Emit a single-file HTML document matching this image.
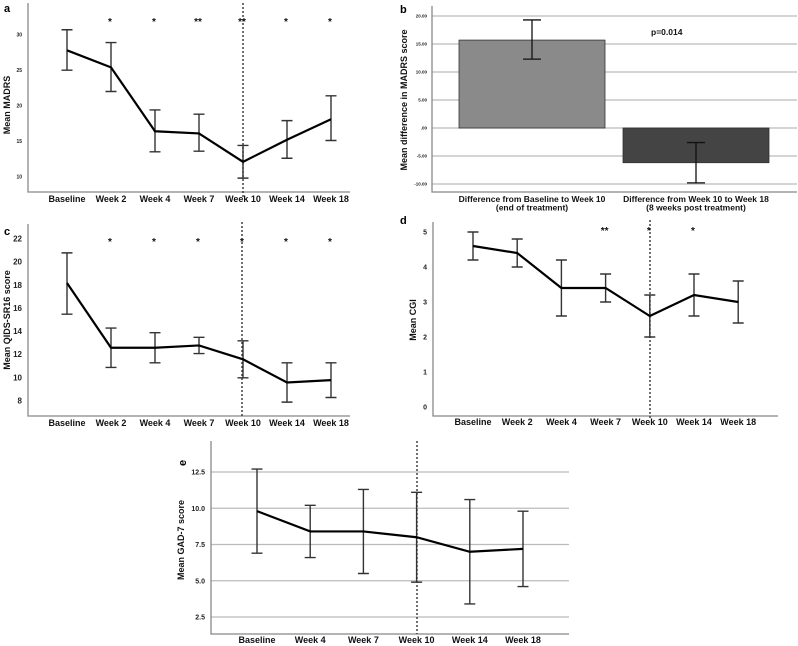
<!DOCTYPE html>
<html><head><meta charset="utf-8"><style>
body{margin:0;background:#fff;}
svg{display:block;font-family:"Liberation Sans",sans-serif;}
</style></head><body>
<svg id="fig" width="798" height="646" viewBox="0 0 798 646" xmlns="http://www.w3.org/2000/svg"></svg>
<script>
const weeks7 = ["Baseline","Week 2","Week 4","Week 7","Week 10","Week 14","Week 18"];
const weeks6 = ["Baseline","Week 4","Week 7","Week 10","Week 14","Week 18"];
const madrsMean = [27.7,25.3,16.3,16.0,12.0,15.1,18.0];
const madrsLo = [24.9,21.9,13.4,13.5,9.7,12.5,15.0];
const madrsHi = [30.6,28.8,19.3,18.7,14.3,17.8,21.3];
const madrsStars = ["","*","*","**","**","*","*"];
const madrsTicks = [10,15,20,25,30];
const diffCats = ["Difference from Baseline to Week 10|(end of treatment)","Difference from Week 10 to Week 18|(8 weeks post treatment)"];
const diffMean = [15.7,-6.2];
const diffLo = [12.3,-9.8];
const diffHi = [19.3,-2.6];
const diffTicks = [-10,-5,0,5,10,15,20];
const diffTickLabels = ["-10.00","-5.00",".00","5.00","10.00","15.00","20.00"];
const qidsMean = [18.2,12.6,12.6,12.8,11.6,9.6,9.8];
const qidsLo = [15.5,10.9,11.3,12.1,10.0,7.9,8.3];
const qidsHi = [20.8,14.3,13.9,13.5,13.2,11.3,11.3];
const qidsStars = ["","*","*","*","*","*","*"];
const qidsTicks = [8,10,12,14,16,18,20,22];
const cgiMean = [4.6,4.4,3.4,3.4,2.6,3.2,3.0];
const cgiLo = [4.2,4.0,2.6,3.0,2.0,2.6,2.4];
const cgiHi = [5.0,4.8,4.2,3.8,3.2,3.8,3.6];
const cgiStars = ["","","","**","*","*",""];
const cgiTicks = [0,1,2,3,4,5];
const gadMean = [9.8,8.4,8.4,8.0,7.0,7.2];
const gadLo = [6.9,6.6,5.5,4.9,3.4,4.6];
const gadHi = [12.7,10.2,11.3,11.1,10.6,9.8];
const gadTicks = [2.5,5.0,7.5,10.0,12.5];
const gadTickLabels = ["2.5","5.0","7.5","10.0","12.5"];

const NS="http://www.w3.org/2000/svg";
const svg=document.getElementById('fig');
function mk(tag,attrs,parent,text){const e=document.createElementNS(NS,tag);for(const k in attrs)e.setAttribute(k,attrs[k]);if(text!==undefined)e.textContent=text;(parent||svg).appendChild(e);return e;}

function linePanel(o){
  const g=mk('g',{});
  
  
  const y=v=>o.y0+(o.v0-v)*o.scale;
  const x=i=>o.x0+i*o.dx;
  if(o.grid){o.ticks.forEach(t=>{const l=mk('line',{x1:o.axL,x2:o.axR,y1:y(t),y2:y(t),stroke:'#bbb','stroke-width':1.2},g);});}
  const ax=mk('path',{d:`M${o.axL},${o.axT}V${o.axB}H${o.axR}`,fill:'none',stroke:'#888','stroke-width':1.3},g);
  
  o.ticks.forEach((t,i)=>{const tx=mk('text',{x:o.axL-6,y:y(t)+2.5,'text-anchor':'end','font-size':o.tickFs,'font-weight':'bold',fill:'#222'},g,o.tickLabels?o.tickLabels[i]:String(t));});
  o.cats.forEach((c,i)=>{const tx=mk('text',{x:x(i),y:o.labY,'text-anchor':'middle','font-size':9,'font-weight':'bold',fill:'#111'},g,c);});
  const dl=mk('line',{x1:o.dash,x2:o.dash,y1:o.dashT,y2:o.dashB,stroke:'#333','stroke-width':1.4,'stroke-dasharray':'2,2'},g);
  
  o.mean.forEach((m,i)=>{const cx=x(i);const eb=mk('path',{d:`M${cx-5.5},${y(o.hi[i])}H${cx+5.5}M${cx},${y(o.hi[i])}V${y(o.lo[i])}M${cx-5.5},${y(o.lo[i])}H${cx+5.5}`,fill:'none',stroke:'#333','stroke-width':1.4},g);});
  const pl=mk('polyline',{points:o.mean.map((m,i)=>x(i)+','+y(m)).join(' '),fill:'none',stroke:'#000','stroke-width':2.2},g);
  
  if(o.stars)o.stars.forEach((s,i)=>{if(!s)return;const st=mk('text',{x:x(i)-1,y:o.starY,'text-anchor':'middle','font-size':10,'font-weight':'bold',fill:'#111'},g,s);});
  const yt=mk('text',{x:0,y:0,transform:`translate(${o.titleX},${o.titleY}) rotate(-90)`,'text-anchor':'middle','font-size':9,'font-weight':'bold',fill:'#111'},g,o.title);
  
  const pl2=mk('text',{x:o.pX,y:o.pY,'font-size':11,'font-weight':'bold',fill:'#000',transform:o.pRot||''},g,o.panel);
  
}

linePanel({name:'panel-a-madrs',cats:weeks7,mean:madrsMean,lo:madrsLo,hi:madrsHi,stars:madrsStars,ticks:madrsTicks,
 v0:30,y0:34,scale:7.1,x0:67,dx:44,axL:28,axR:350,axT:3,axB:192,labY:202,tickFs:5,dash:243,dashT:3,dashB:198,starY:25,
 title:'Mean MADRS',titleX:10,titleY:105,panel:'a',pX:4,pY:12});
linePanel({name:'panel-c-qids',cats:weeks7,mean:qidsMean,lo:qidsLo,hi:qidsHi,stars:qidsStars,ticks:qidsTicks,
 v0:22,y0:239,scale:11.57,x0:67,dx:44,axL:28,axR:350,axT:224,axB:416,labY:426,tickFs:8,dash:242,dashT:222,dashB:418,starY:245,
 title:'Mean QIDS-SR16 score',titleX:10,titleY:320,panel:'c',pX:4,pY:235});
linePanel({name:'panel-d-cgi',cats:weeks7,mean:cgiMean,lo:cgiLo,hi:cgiHi,stars:cgiStars,ticks:cgiTicks,
 v0:5,y0:232,scale:35,x0:473,dx:44.2,axL:433,axR:778,axT:222,axB:416,labY:425,tickFs:7,dash:650,dashT:220,dashB:418,starY:234,
 title:'Mean CGI',titleX:416,titleY:320,panel:'d',pX:400,pY:224});
linePanel({name:'panel-e-gad7',cats:weeks6,mean:gadMean,lo:gadLo,hi:gadHi,ticks:gadTicks,tickLabels:gadTickLabels,grid:true,
 v0:12.5,y0:472,scale:14.5,x0:257,dx:53.2,axL:211,axR:569,axT:441,axB:634,labY:643,tickFs:7,dash:417,dashT:441,dashB:634,
 title:'Mean GAD-7 score',titleX:184,titleY:540,panel:'e',pX:0,pY:0,pRot:'translate(186,466) rotate(-90)'});

// Panel b bar chart
(function(){
  const g=mk('g',{});
  
  
  const y=v=>128-v*5.6;
  const axL=432,axR=797,bw=146,bx=[459,623];
  diffTicks.forEach((t,i)=>{const l=mk('line',{x1:axL,x2:axR,y1:y(t),y2:y(t),stroke:'#bbb','stroke-width':1.2},g);
   const tx=mk('text',{x:axL-5,y:y(t)+1.5,'text-anchor':'end','font-size':4.5,'font-weight':'bold',fill:'#222'},g,diffTickLabels[i]);});
  const ax=mk('path',{d:`M${axL},6V192H${axR}`,fill:'none',stroke:'#888','stroke-width':1.3},g);
  
  const cols=['#8a8a8a','#444'];
  diffMean.forEach((m,i)=>{
    const r=mk('rect',{x:bx[i],y:Math.min(y(m),y(0)),width:bw,height:Math.abs(y(m)-y(0)),fill:cols[i],stroke:'#333','stroke-width':0.8},g);
    
    const cx=bx[i]+bw/2;
    const eb=mk('path',{d:`M${cx-9},${y(diffHi[i])}H${cx+9}M${cx},${y(diffHi[i])}V${y(diffLo[i])}M${cx-9},${y(diffLo[i])}H${cx+9}`,fill:'none',stroke:'#111','stroke-width':1.3},g);
    
    const parts=diffCats[i].split('|');
    parts.forEach((p,k)=>{const tx=mk('text',{x:cx,y:202+k*8.5,'text-anchor':'middle','font-size':8.5,'font-weight':'bold',fill:'#111'},g,p);});
  });
  const pv=mk('text',{x:651,y:35,'font-size':8.5,'font-weight':'bold',fill:'#111'},g,'p=0.014');
  
  const yt=mk('text',{x:0,y:0,transform:'translate(407,100) rotate(-90)','text-anchor':'middle','font-size':9,'font-weight':'bold',fill:'#111'},g,'Mean difference in MADRS score');
  
  const pl=mk('text',{x:400,y:13,'font-size':11,'font-weight':'bold',fill:'#000'},g,'b');
  
})();
</script>
</body></html>
